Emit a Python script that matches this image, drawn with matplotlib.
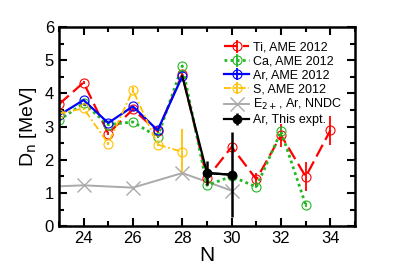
import numpy as np
import matplotlib
matplotlib.use("Agg")
import matplotlib.pyplot as plt
from matplotlib.ticker import MultipleLocator

plt.rcParams["font.family"] = ["Liberation Sans", "DejaVu Sans"]

# ==========================
# data
# ==========================
n_ti = [23, 24, 25, 26, 27, 28, 29, 30, 31, 32, 33, 34]
d_ti = [3.67, 4.33, 2.79, 3.52, 2.86, 4.58, 1.44, 2.39, 1.41, 2.74, 1.49, 2.89]
e_ti = [0.05, 0.05, 0.05, 0.05, 0.05, 0.05, 0.05, 0.05, 0.2, 0.35, 0.43, 0.43]

n_ca = [23, 24, 25, 26, 27, 28, 29, 30, 31, 32, 33]
d_ca = [3.19, 3.70, 3.06, 3.14, 2.69, 4.83, 1.23, 1.50, 1.18, 2.86, 0.64]
e_ca = [0.02, 0.02, 0.02, 0.02, 0.02, 0.02, 0.02, 0.02, 0.02, 0.1, 0.05]

n_ar = [23, 24, 25, 26, 27, 28]
d_ar = [3.34, 3.80, 3.11, 3.61, 2.89, 4.52]
e_ar = [0.02, 0.02, 0.02, 0.02, 0.02, 0.02]

n_s = [23, 24, 25, 26, 27, 28]
d_s = [3.39, 3.55, 2.49, 4.10, 2.46, 2.24]
e_s = [0.05, 0.05, 0.05, 0.1, 0.05, 0.7]

n_e2 = [22, 24, 26, 28, 30]
d_e2 = [1.17, 1.23, 1.16, 1.60, 1.07]

n_exp = [28, 29, 30]
d_exp = [4.52, 1.60, 1.55]
e_exp = [0.0, 0.35, 1.29]

# ==========================
# plot
# ==========================
fig = plt.figure(figsize=(3.95, 2.66), dpi=100)
ax = fig.add_axes([0.149, 0.150, 0.750, 0.748])

ms = 6.5
lw = 1.6

h_ti = ax.errorbar(n_ti, d_ti, yerr=e_ti, color="#ff0000", ls=(0, (6, 2.5)), lw=lw,
                   marker="o", ms=ms, mfc="none", mew=0.8, elinewidth=1.3,
                   label="Ti, AME 2012")
h_ca = ax.errorbar(n_ca, d_ca, yerr=e_ca, color="#22b822", ls=(0, (1, 1.2)), lw=2.0,
                   marker="o", ms=ms, mfc="none", mew=0.8, elinewidth=1.3,
                   label="Ca, AME 2012")
h_ar = ax.errorbar(n_ar, d_ar, yerr=e_ar, color="#0000ff", ls="-", lw=lw,
                   marker="o", ms=ms, mfc="none", mew=0.8, elinewidth=1.3,
                   label="Ar, AME 2012")
h_s = ax.errorbar(n_s, d_s, yerr=e_s, color="#ffc000", ls=(0, (4, 1.5, 1, 1.5)), lw=1.3,
                  marker="o", ms=ms, mfc="none", mew=0.8, elinewidth=1.3,
                  label="S, AME 2012")
h_e2, = ax.plot(n_e2, d_e2, color="#aaaaaa", ls="-", lw=1.4, marker="x", ms=10, mew=1.0,
                label="E$_{2+}$, Ar, NNDC")

# black line starts at the AME value of N=28 (no marker there)
ax.plot(n_exp, d_exp, color="black", lw=lw, zorder=5)
h_exp = ax.errorbar(n_exp[1:], d_exp[1:], yerr=e_exp[1:], color="black", ls="-", lw=lw,
                    marker="o", ms=6, elinewidth=1.8, zorder=6,
                    label="Ar, This expt.")

ax.set_xlim(23, 35)
ax.set_ylim(0, 6)
ax.xaxis.set_major_locator(MultipleLocator(2))
ax.xaxis.set_minor_locator(MultipleLocator(1))
ax.yaxis.set_major_locator(MultipleLocator(1))
ax.yaxis.set_minor_locator(MultipleLocator(0.5))
ax.tick_params(which="both", direction="in", top=True, right=True,
               labelsize=12, width=1.5)
ax.tick_params(which="major", length=6)
ax.tick_params(which="minor", length=3.5)
for sp in ax.spines.values():
    sp.set_linewidth(1.8)

ax.set_xlabel("N", fontsize=15, labelpad=0)
ax.set_ylabel("D$_{\\rm n}$ [MeV]", fontsize=14, labelpad=4)

handles = [h_ti, h_ca, h_ar, h_s, h_e2, h_exp]
ax.legend(handles=handles, labels=[h.get_label() for h in handles],
          loc="upper right", bbox_to_anchor=(0.985, 0.97), frameon=False,
          fontsize=9, handlelength=2.0, handletextpad=0.3, labelspacing=0.15,
          borderpad=0.2)

fig.savefig("out.png", dpi=100)
